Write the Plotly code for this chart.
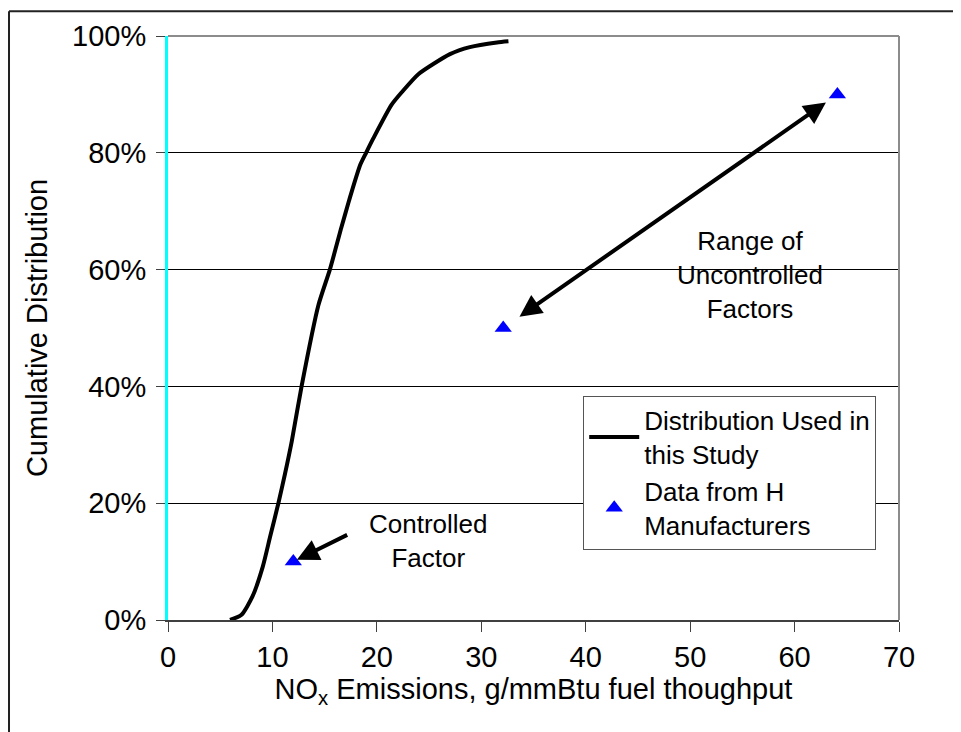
import plotly.graph_objects as go

# Distribution used in this study (cumulative)
dist_x = [5.94, 7.04, 8.08, 9.07, 9.77, 10.57, 11.2, 11.85, 12.8, 14.4, 15.5, 16.6,
          17.27, 17.6, 18.4, 18.97, 19.67, 21.4, 22.4, 24.0, 27.0, 28.9, 31.5, 32.6]
dist_y = [0.0, 0.009, 0.040, 0.091, 0.142, 0.200, 0.250, 0.306, 0.401, 0.539, 0.600, 0.672,
          0.714, 0.734, 0.779, 0.800, 0.825, 0.882, 0.904, 0.935, 0.969, 0.981, 0.989, 0.991]

# Data from H manufacturers
mfr_x = [12.0, 32.1, 64.1]
mfr_y = [0.10, 0.50, 0.90]

x_ticks = [0, 10, 20, 30, 40, 50, 60, 70]
y_ticks = [0, 0.2, 0.4, 0.6, 0.8, 1.0]

FONT = "Arial, Liberation Sans, sans-serif"

fig = go.Figure()
fig.add_trace(go.Scatter(
    x=dist_x, y=dist_y, mode="lines",
    name="Distribution Used in<br>this Study",
    line=dict(color="black", width=4, shape="spline", smoothing=0.6),
))
fig.add_trace(go.Scatter(
    x=mfr_x, y=mfr_y, mode="markers",
    name="Data from H<br>Manufacturers",
    marker=dict(symbol="triangle-up", color="#0000ff", size=15),
))

# Arrows
fig.add_annotation(x=mfr_x[0], y=mfr_y[0], ax=17.3, ay=0.147, xref="x", yref="y",
                   axref="x", ayref="y", showarrow=True, arrowhead=2, arrowsize=1.1,
                   arrowwidth=4, arrowcolor="black", standoff=4, text="")
fig.add_annotation(x=mfr_x[2], y=mfr_y[2], ax=mfr_x[1], ay=mfr_y[1], xref="x", yref="y",
                   axref="x", ayref="y", showarrow=True, arrowhead=2, arrowsize=1.1,
                   arrowwidth=4, arrowcolor="black", arrowside="end+start",
                   standoff=14, startstandoff=18, startarrowhead=2, startarrowsize=1.1, text="")

# Text labels
fig.add_annotation(x=24.9, y=0.136, xref="x", yref="y", showarrow=False,
                   text="Controlled<br>Factor", font=dict(size=26, color="black", family=FONT))
fig.add_annotation(x=55.75, y=0.59, xref="x", yref="y", showarrow=False,
                   text="Range of<br>Uncontrolled<br>Factors", font=dict(size=26, color="black", family=FONT))

# plot-area top and right border (grey)
fig.add_shape(type="line", xref="paper", yref="paper", x0=0, x1=1, y0=1, y1=1,
              line=dict(color="#8c8c8c", width=2))
fig.add_shape(type="line", xref="paper", yref="paper", x0=1, x1=1, y0=0, y1=1,
              line=dict(color="#8c8c8c", width=2))
# outer frame (left and top)
fig.add_shape(type="line", xref="paper", yref="paper", x0=-0.2175, x1=-0.2175, y0=-0.3, y1=1.0425,
              line=dict(color="#222222", width=2))
fig.add_shape(type="line", xref="paper", yref="paper", x0=-0.2175, x1=1.2, y0=1.0425, y1=1.0425,
              line=dict(color="#222222", width=2))

fig.update_layout(
    width=961, height=732,
    margin=dict(l=160, r=70, t=24, b=120),
    paper_bgcolor="white", plot_bgcolor="white",
    font=dict(family=FONT, color="black", size=26),
    showlegend=True,
    legend=dict(
        x=0.568, y=0.384, xanchor="left", yanchor="top",
        bgcolor="white", bordercolor="#555555", borderwidth=1,
        font=dict(size=26, family=FONT, color="black"),
        tracegroupgap=0, itemwidth=50,
    ),
    xaxis=dict(
        range=[0, 70], tickvals=x_ticks, ticktext=[str(v) for v in x_ticks],
        showgrid=False, zeroline=False,
        showline=True, linecolor="#404040", linewidth=2,
        ticks="outside", ticklen=10, tickcolor="#404040", tickwidth=1,
        tickfont=dict(size=29, family=FONT, color="black"),
        title=dict(text="NO<sub>x</sub> Emissions, g/mmBtu fuel thoughput",
                   font=dict(size=29, family=FONT, color="black"), standoff=6),
    ),
    yaxis=dict(
        range=[0, 1], tickvals=y_ticks, tickformat=".0%",
        showgrid=True, gridcolor="black", gridwidth=1, zeroline=False,
        showline=True, linecolor="#00ffff", linewidth=3,
        ticks="outside", ticklen=9, tickcolor="#404040", tickwidth=1,
        tickfont=dict(size=29, family=FONT, color="black"),
        ticklabelstandoff=4,
        title=dict(text="Cumulative Distribution",
                   font=dict(size=29, family=FONT, color="black"), standoff=16),
    ),
)

fig.write_html("out.html")
